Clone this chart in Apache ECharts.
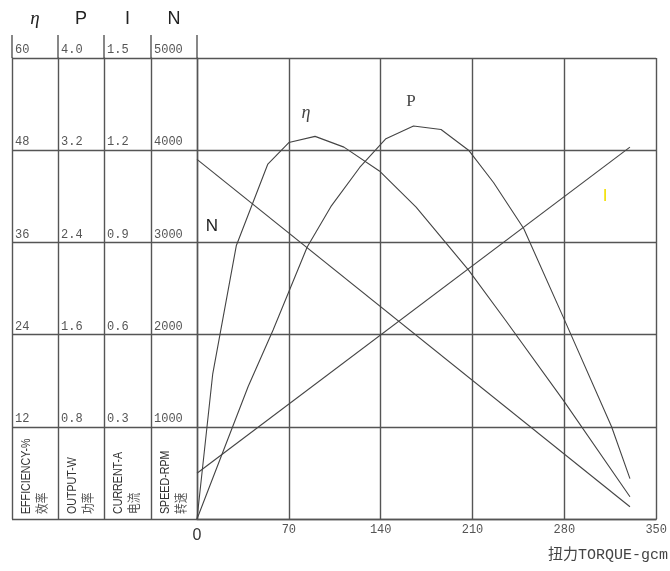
<!DOCTYPE html>
<html><head><meta charset="utf-8">
<script src="https://cdn.jsdelivr.net/npm/echarts@6/dist/echarts.min.js"></script>
<style>html,body{margin:0;padding:0;background:#fff}#c{width:670px;height:571px}</style>
</head><body><div id="c"></div>
<script>
// ---- data ----
const columnHeaders = ['η', 'P', 'I', 'N'];
const columnMax = [60, 4.0, 1.5, 5000];
const columnDecimals = [0, 1, 1, 0];
const columnTitles = ['EFFICIENCY-%', 'OUTPUT-W', 'CURRENT-A', 'SPEED-RPM'];
const columnTitlesCN = ['效率', '功率', '电流', '转速'];
const torqueMax = 350;
const torqueStep = 70;
const torqueTitle = '扭力TORQUE-gcm';

const etaTorque = [0, 12, 30, 54, 70, 90, 112, 139, 167, 207, 235, 279, 330];
const etaValues = [0, 18.9, 35.6, 46.2, 49.0, 49.8, 48.4, 45.3, 40.6, 32.4, 25.9, 15.5, 2.9];
const powerTorque = [0, 39, 58, 84, 102, 124, 144, 165, 186, 207, 226, 249, 280, 316, 330];
const powerValues = [0, 1.15, 1.64, 2.36, 2.71, 3.05, 3.30, 3.41, 3.38, 3.20, 2.92, 2.52, 1.73, 0.80, 0.35];
const currentTorque = [0, 330];
const currentValues = [0.149, 1.21];
const speedTorque = [0, 330];
const speedValues = [3900, 133];

// curve tag labels [torque, value]
const etaTag = [83, 52.8];
const powerTag = [163, 3.62];
const currentTag = [311, 1.05];
const speedTag = [11.4, 3170];

// ---- layout ----
const COL_X = [12, 58, 104, 151, 197];
const PLOT_RIGHT = 658, TOP = 58, BOTTOM = 519, EXT_TOP = 35;
const LINE = { color: '#555', width: 1.4 };
const CURVE = { color: '#444', width: 1.1 };
const NUM_FONT = 'Liberation Mono';

const zip = (a, b) => a.map((v, i) => [v, b[i]]);

const grids = [], xAxes = [], yAxes = [], graphics = [];
for (let i = 0; i < 4; i++) {
  grids.push({ left: COL_X[i], top: TOP, width: COL_X[i + 1] - COL_X[i], height: BOTTOM - TOP });
  xAxes.push({
    gridIndex: i, type: 'value', min: 0, max: 1, position: 'top',
    axisLine: { show: false }, axisTick: { show: false }, axisLabel: { show: false }, splitLine: { show: false },
    name: columnHeaders[i], nameLocation: 'middle', nameGap: 30,
    nameTextStyle: i === 0
      ? { fontFamily: 'Liberation Serif', fontStyle: 'italic', fontSize: 19, color: '#222' }
      : { fontFamily: 'Liberation Sans', fontSize: 18, color: '#222' }
  });
  const dec = columnDecimals[i];
  yAxes.push({
    gridIndex: i, type: 'value', min: 0, max: columnMax[i], interval: columnMax[i] / 5,
    axisLine: { show: true, lineStyle: LINE }, axisTick: { show: false },
    splitLine: { show: true, lineStyle: LINE },
    axisLabel: {
      inside: true, margin: 3, align: 'left', verticalAlign: 'bottom', showMinLabel: false, showMaxLabel: true,
      fontFamily: NUM_FONT, fontSize: 12, color: '#555', padding: [0, 0, 2, 0],
      formatter: v => v.toFixed(dec)
    }
  });
  graphics.push({
    type: 'text', x: COL_X[i] + 22, y: BOTTOM - 5, rotation: Math.PI / 2, scaleX: 0.82,
    style: {
      text: '{a|' + columnTitles[i] + '}\n{b|' + columnTitlesCN[i] + '}',
      align: 'left', verticalAlign: 'middle',
      rich: {
        a: { fontFamily: 'Liberation Sans', fontSize: 13, fill: '#333', lineHeight: 15 },
        b: { fontFamily: 'Noto Sans CJK SC', fontSize: 13, fill: '#555', lineHeight: 15 }
      }
    }
  });
}
COL_X.forEach(x => graphics.push({
  type: 'line', shape: { x1: x, y1: EXT_TOP, x2: x, y2: TOP }, style: { stroke: LINE.color, lineWidth: LINE.width }
}));
graphics.push({
  type: 'text', x: 668, y: 555,
  style: { text: torqueTitle, align: 'right', verticalAlign: 'middle', fontFamily: NUM_FONT + ', Noto Sans CJK SC', fontSize: 15, fill: '#444' }
});

// plot grid
grids.push({ left: COL_X[4], top: TOP, width: PLOT_RIGHT - COL_X[4], height: BOTTOM - TOP });
xAxes.push({
  gridIndex: 4, type: 'value', min: 0, max: torqueMax, interval: torqueStep,
  axisLine: { show: true, lineStyle: LINE }, axisTick: { show: false },
  splitLine: { show: true, lineStyle: LINE },
  axisLabel: {
    margin: 5, fontFamily: NUM_FONT, fontSize: 12, color: '#555',
    formatter: v => v === 0 ? '{o|0}' : String(v),
    rich: { o: { fontFamily: 'Liberation Sans', fontSize: 16, color: '#333', padding: [4, 0, 0, 0] } }
  }
});
const plotAxis = (max, main) => ({
  gridIndex: 4, type: 'value', min: 0, max: max, interval: max / 5, show: main,
  axisLine: { show: true, lineStyle: LINE }, axisTick: { show: false }, axisLabel: { show: false },
  splitLine: { show: true, lineStyle: LINE }
});
yAxes.push(plotAxis(columnMax[3], true));   // 4: N
yAxes.push(plotAxis(columnMax[0], false));  // 5: eta
yAxes.push(plotAxis(columnMax[1], false));  // 6: P
yAxes.push(plotAxis(columnMax[2], false));  // 7: I

const tag = (coord, text, style) => ({
  symbol: 'circle', symbolSize: 0, silent: true, animation: false,
  label: Object.assign({ show: true, position: 'inside', formatter: text }, style),
  data: [{ coord: coord }]
});
const mkSeries = (name, xs, ys, yi, mp) => ({
  name, type: 'line', xAxisIndex: 4, yAxisIndex: yi, data: zip(xs, ys),
  showSymbol: false, symbol: 'none', lineStyle: CURVE, silent: true, animation: false, markPoint: mp
});

const option = {
  backgroundColor: '#fff',
  animation: false,
  grid: grids, xAxis: xAxes, yAxis: yAxes,
  graphic: graphics,
  series: [
    mkSeries('eta', etaTorque, etaValues, 5, tag(etaTag, 'η', { fontFamily: 'Liberation Serif', fontStyle: 'italic', fontSize: 18, color: '#444' })),
    mkSeries('P', powerTorque, powerValues, 6, tag(powerTag, 'P', { fontFamily: 'Liberation Serif', fontSize: 17, color: '#444' })),
    mkSeries('I', currentTorque, currentValues, 7, tag(currentTag, 'I', { fontFamily: 'Liberation Sans', fontSize: 17, color: '#f2e000' })),
    mkSeries('N', speedTorque, speedValues, 4, tag(speedTag, 'N', { fontFamily: 'Liberation Sans', fontSize: 17, color: '#222' }))
  ]
};
echarts.init(document.getElementById('c'), null, { renderer: 'canvas' }).setOption(option);
</script></body></html>
